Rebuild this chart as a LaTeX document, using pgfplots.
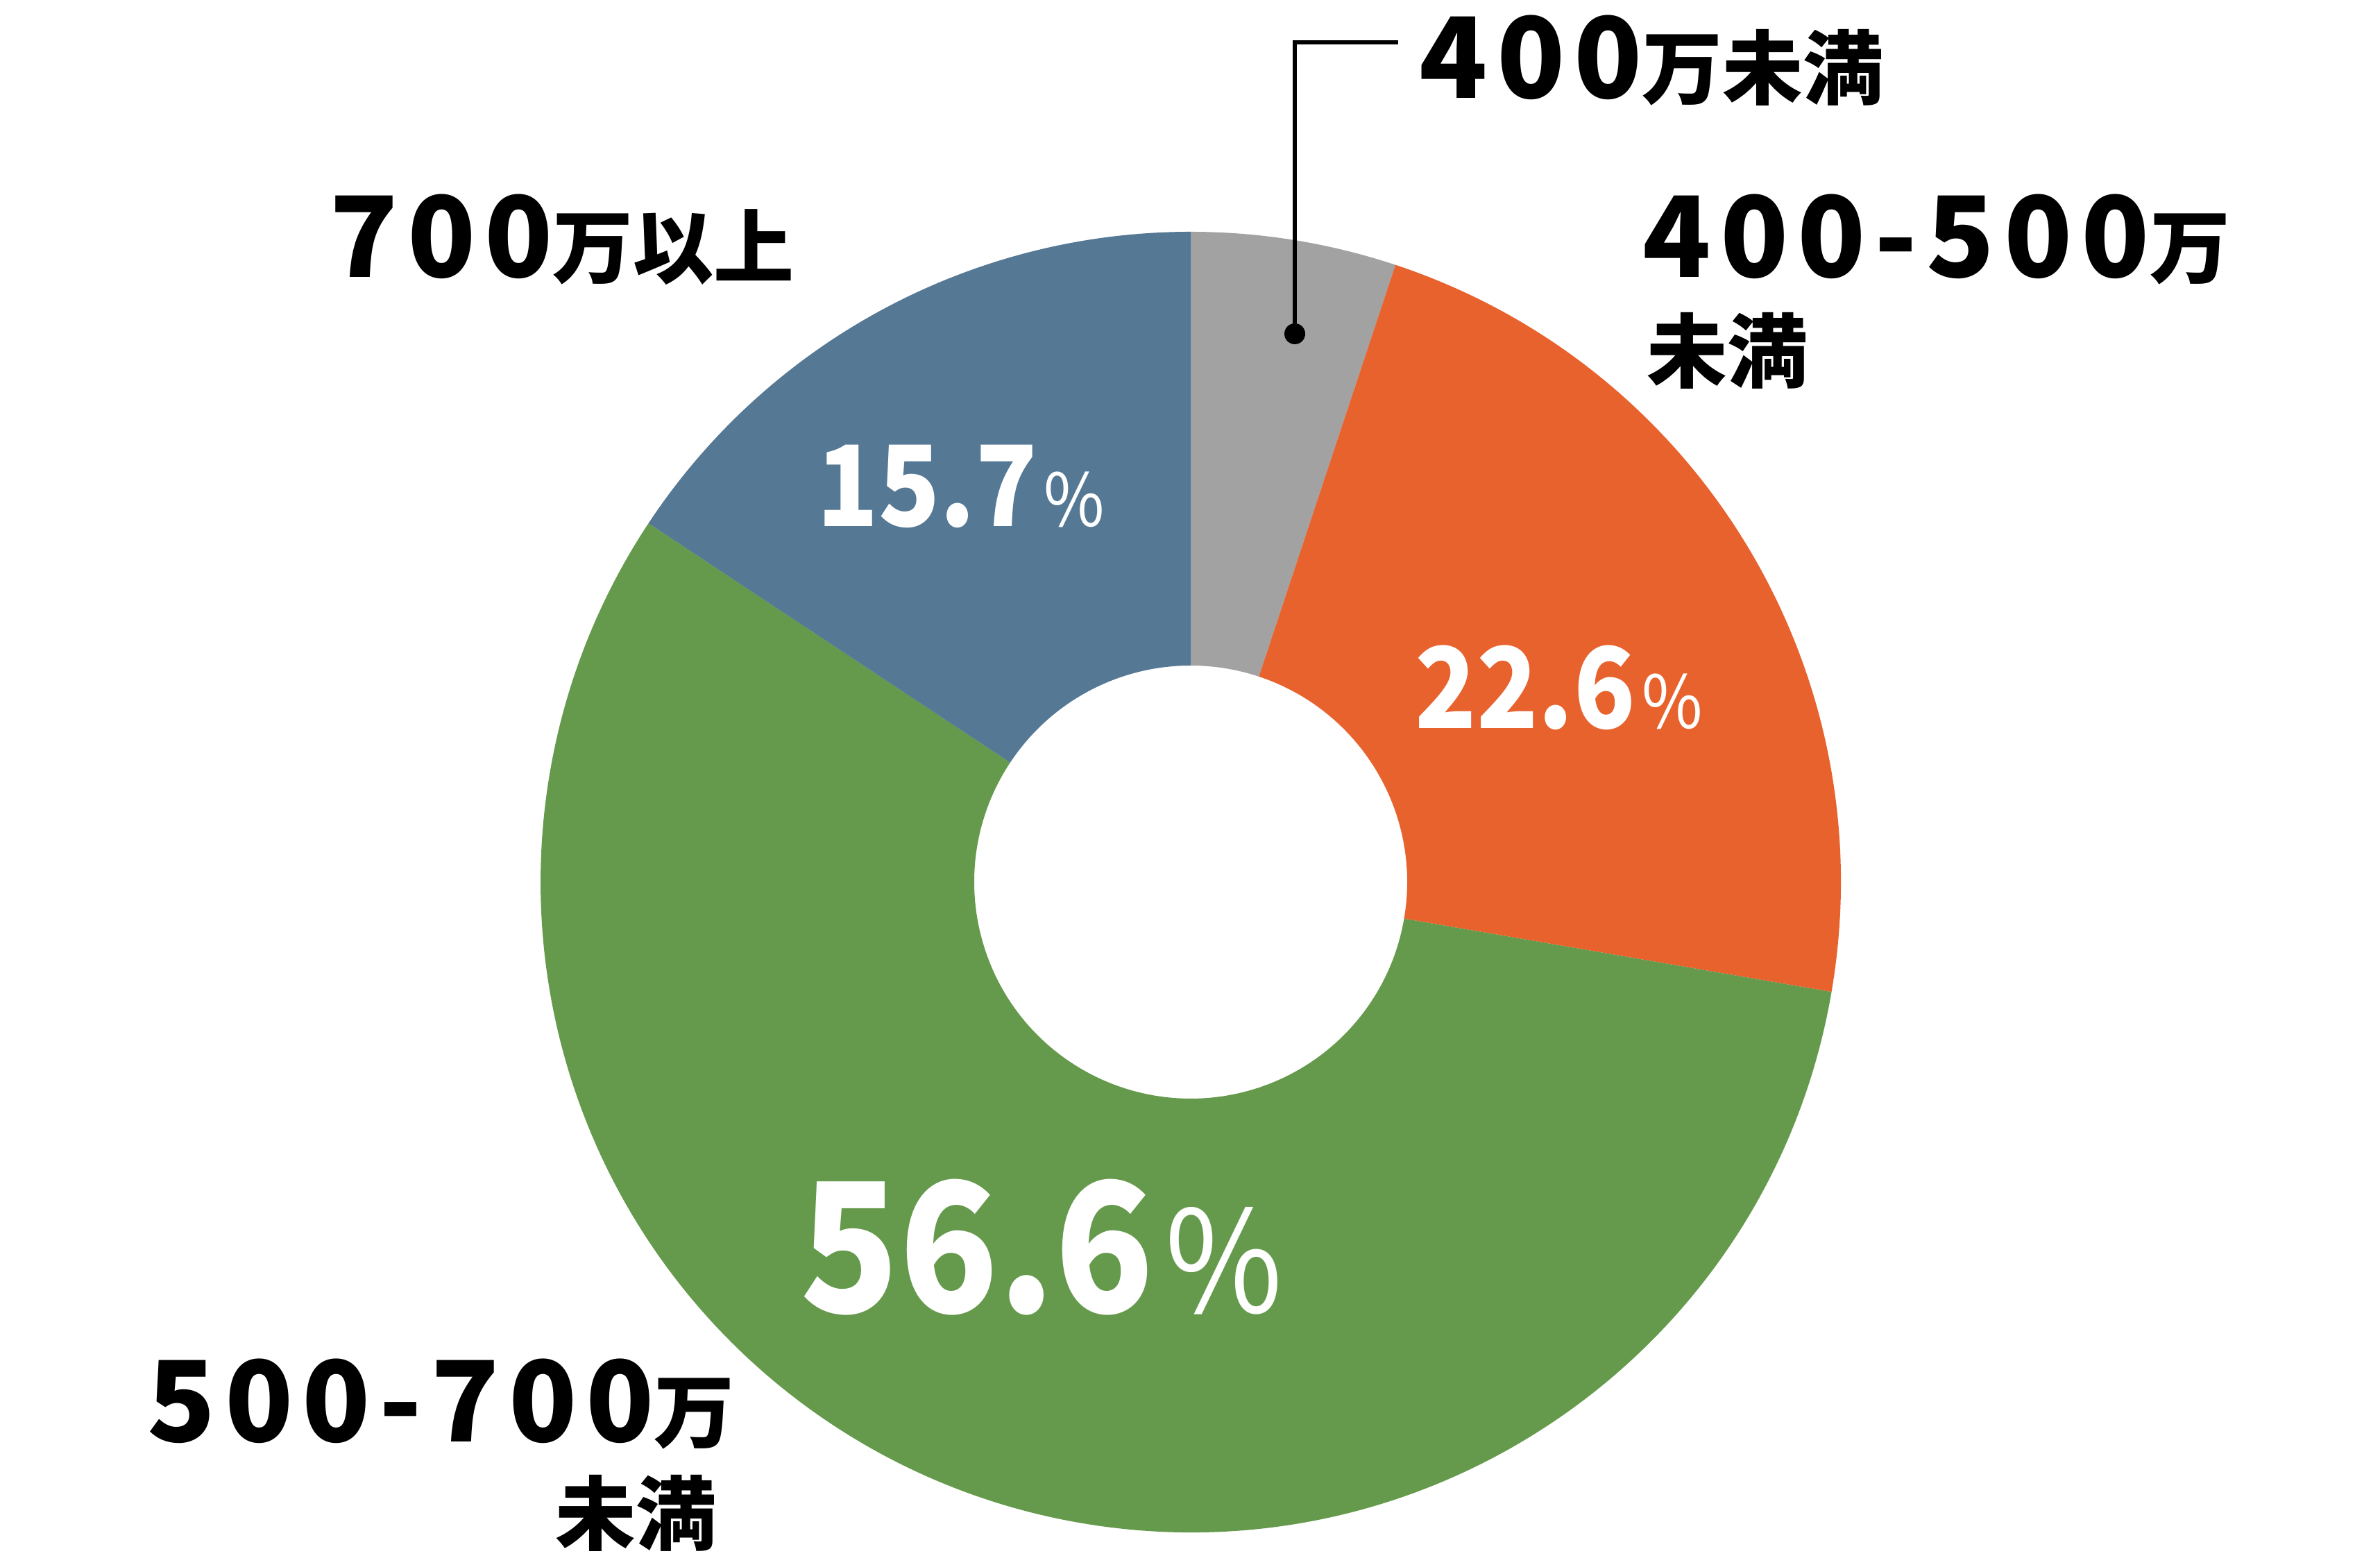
\documentclass[border=0pt]{standalone}
\usepackage{pgfplots}
\pgfplotsset{compat=1.18}
\usepackage{pgfplotstable}
\usepackage{fontspec}
\newfontfamily\jp{Noto Sans CJK JP}
\newfontfamily\jpsp{Noto Sans CJK JP}[LetterSpace=8]
\definecolor{cgray}{HTML}{A2A2A2}
\definecolor{corange}{HTML}{E8622E}
\definecolor{cgreen}{HTML}{659A4C}
\definecolor{cblue}{HTML}{557895}

\pgfplotstableread{
label value
a 5.1
b 22.6
c 56.6
d 15.7
}\datatable

\pgfplotstablegetelem{0}{value}\of\datatable\edef\vA{\pgfplotsretval}
\pgfplotstablegetelem{1}{value}\of\datatable\edef\vB{\pgfplotsretval}
\pgfplotstablegetelem{2}{value}\of\datatable\edef\vC{\pgfplotsretval}
\pgfplotstablegetelem{3}{value}\of\datatable\edef\vD{\pgfplotsretval}
\pgfmathsetmacro{\tot}{\vA+\vB+\vC+\vD}
\pgfmathsetmacro{\aA}{90}
\pgfmathsetmacro{\aB}{90-(\vA/\tot)*360}
\pgfmathsetmacro{\aC}{\aB-(\vB/\tot)*360}
\pgfmathsetmacro{\aD}{\aC-(\vC/\tot)*360}
\pgfmathsetmacro{\aE}{-270}
\def\cx{17.16}
\def\cy{9.84}
\def\R{9.37}
\def\r{3.12}

\newcommand{\seg}[3]{\fill[#3, shift={(axis cs:\cx,\cy)}] (#1:\R cm) arc[start angle=#1, end angle=#2, radius=\R cm] -- (#2:\r cm) arc[start angle=#2, end angle=#1, radius=\r cm] -- cycle;}
\newcommand{\lab}[2]{{\fontsize{46pt}{46pt}\selectfont\jpsp\bfseries #1}{\fontsize{33pt}{33pt}\selectfont\jp\bfseries #2}}
\newcommand{\kj}[1]{{\fontsize{33pt}{33pt}\selectfont\jp\bfseries #1}}
\newcommand{\pct}[4]{\scalebox{0.9}[1]{{\fontsize{#1}{#1}\selectfont\jp\bfseries #3}\hspace{#4}{\fontsize{#2}{#2}\selectfont\jp\%}}}

\begin{document}
\begin{tikzpicture}
\begin{axis}[hide axis, x=1cm, y=1cm, xmin=0, xmax=34.3, ymin=0, ymax=22.55,
  clip=false, anchor=origin, at={(0,0)}]
\seg{\aA}{\aB}{cgray}
\seg{\aB}{\aC}{corange}
\seg{\aC}{\aD}{cgreen}
\seg{\aD}{\aE}{cblue}
% leader
\draw[line width=1.9pt] (axis cs:18.66,17.74) -- (axis cs:18.66,21.94) -- (axis cs:20.15,21.94);
\fill (axis cs:18.66,17.74) circle[radius=0.15cm];
% labels
\node[anchor=base west, inner sep=0] at (axis cs:20.45,21.13) {\lab{400}{万未満}};
\node[anchor=base west, inner sep=0] at (axis cs:23.67,18.55) {\lab{400-500}{万}};
\node[anchor=base west, inner sep=0] at (axis cs:23.73,17.05) {\kj{未満}};
\node[anchor=base west, inner sep=0] at (axis cs:4.75,18.55) {\lab{700}{万以上}};
\node[anchor=base west, inner sep=0] at (axis cs:2.12,1.77) {\lab{500-700}{万}};
\node[anchor=base east, inner sep=0] at (axis cs:10.33,0.30) {\kj{未満}};
% percentages
\node[anchor=base west, inner sep=0, text=white] at (axis cs:11.77,14.96) {\pct{46pt}{30pt}{15.7}{3pt}};
\node[anchor=base west, inner sep=0, text=white] at (axis cs:20.39,12.05) {\pct{46pt}{30pt}{22.6}{3pt}};
\node[anchor=base west, inner sep=0, text=white] at (axis cs:11.53,3.63) {\pct{74pt}{58pt}{56.6}{5pt}};
\end{axis}
\pgfresetboundingbox
\path[use as bounding box] (0,0) rectangle (34.3cm,22.55cm);
\end{tikzpicture}
\end{document}
